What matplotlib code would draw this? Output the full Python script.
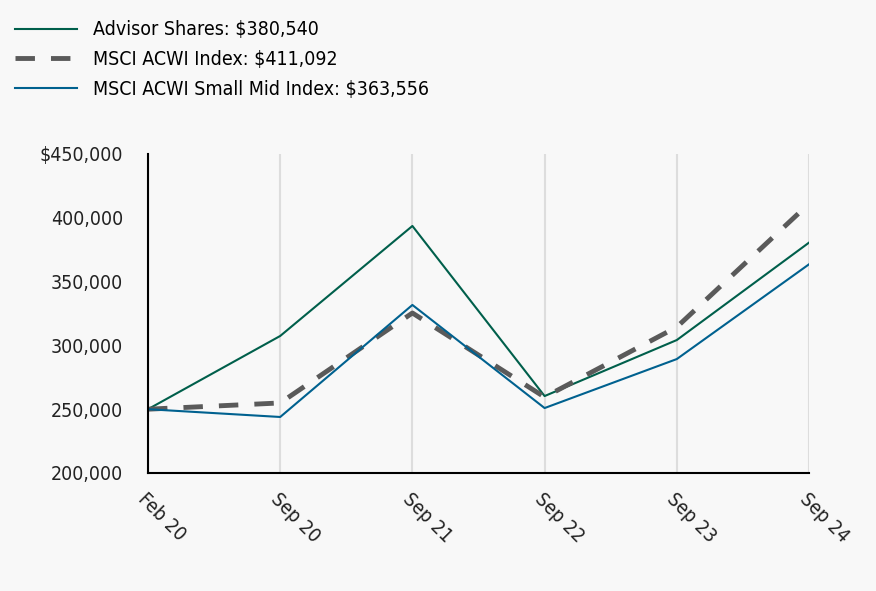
import matplotlib
matplotlib.use("Agg")
import matplotlib.pyplot as plt
from matplotlib.ticker import FuncFormatter

plt.rcParams['font.family'] = ['DejaVu Sans']
plt.rcParams['font.stretch'] = 'condensed'

# data
DATES = ["Feb 20", "Sep 20", "Sep 21", "Sep 22", "Sep 23", "Sep 24"]
ADVISOR = [250000, 307400, 393600, 260300, 304200, 380540]
ACWI = [250000, 254900, 325400, 259500, 314400, 411092]
SMALL_MID = [250000, 243900, 331700, 250900, 289300, 363556]

GREEN = "#005f4b"
GRAY = "#5a5a5a"
BLUE = "#00618f"
BG = "#f8f8f8"


def money(v, pos):
    if v >= 450000:
        return "${:,.0f}".format(v)
    return "{:,.0f}".format(v)


def main():
    fig = plt.figure(figsize=(8.76, 5.91), dpi=100, facecolor=BG)
    ax = fig.add_axes([148 / 876, 1 - 473 / 591, (809 - 148) / 876, (473 - 154) / 591])
    ax.set_facecolor(BG)

    x = list(range(len(DATES)))
    ax.plot(x, ADVISOR, color=GREEN, lw=1.5, label="Advisor Shares: $380,540")
    ax.plot(x, ACWI, color=GRAY, lw=3.5, dashes=(4, 3.3), label="MSCI ACWI Index: $411,092")
    ax.plot(x, SMALL_MID, color=BLUE, lw=1.5, label="MSCI ACWI Small Mid Index: $363,556")

    ax.set_xlim(0, len(DATES) - 1)
    ax.set_ylim(200000, 450000)
    ax.set_yticks([200000, 250000, 300000, 350000, 400000, 450000])
    ax.yaxis.set_major_formatter(FuncFormatter(money))
    ax.set_xticks(x)
    ax.set_xticklabels(DATES, rotation=-45, ha="left", va="top", rotation_mode="anchor")
    ax.grid(axis="x", color="#dddddd", lw=1.5)
    ax.set_axisbelow(True)

    for s in ["top", "right"]:
        ax.spines[s].set_visible(False)
    for s in ["left", "bottom"]:
        ax.spines[s].set_color("black")
        ax.spines[s].set_linewidth(1.5)
    ax.tick_params(axis="both", length=0, labelsize=14, colors="#222222")
    ax.tick_params(axis="y", pad=18)
    ax.tick_params(axis="x", pad=12)

    fig.legend(loc="upper left", bbox_to_anchor=(-0.003, 0.995), frameon=False,
               fontsize=14, handlelength=3.2, labelspacing=0.55, handletextpad=0.8)

    fig.savefig("out.png", dpi=100, facecolor=BG)


if __name__ == "__main__":
    main()
